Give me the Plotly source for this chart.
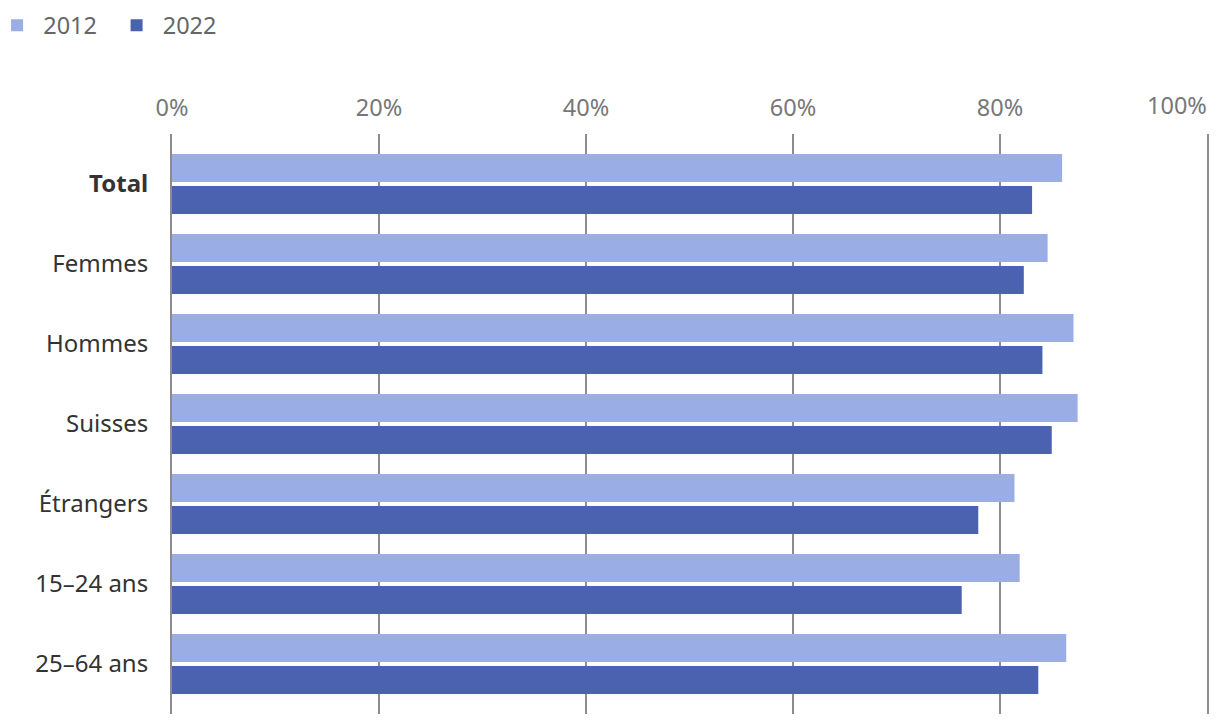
import plotly.graph_objects as go

categories = ["<b>Total</b>", "Femmes", "Hommes", "Suisses", "Étrangers", "15–24 ans", "25–64 ans"]
values_2012 = [86.0, 84.6, 87.1, 87.5, 81.4, 81.9, 86.4]
values_2022 = [83.1, 82.3, 84.1, 85.0, 77.9, 76.3, 83.7]
series_names = ["2012", "2022"]
tick_vals = [0, 20, 40, 60, 80, 100]
tick_text = ["0%", "20%", "40%", "60%", "80%", "100%"]

FONT = "Noto Sans"
GRID = "#8c8c8c"
fig = go.Figure()
fig.add_trace(go.Bar(y=categories, x=values_2012, name=" " + series_names[0], orientation="h",
                     marker=dict(color="#9BADE5", line=dict(width=0))))
fig.add_trace(go.Bar(y=categories, x=values_2022, name=" " + series_names[1], orientation="h",
                     marker=dict(color="#4A62B0", line=dict(width=0))))

fig.update_layout(
    width=1220, height=726,
    margin=dict(l=164, r=21, t=126, b=20, autoexpand=False),
    paper_bgcolor="white", plot_bgcolor="white",
    barmode="group", bargap=0.2, bargroupgap=0.125,
    font=dict(family=FONT, size=24, color="#333333"),
    showlegend=True,
    legend=dict(orientation="h", x=-0.169, y=1.225, xref="paper", yref="paper",
                xanchor="left", yanchor="top",
                font=dict(family=FONT, size=23.5, color="#666666"),
                entrywidth=74.5, entrywidthmode="pixels"),
    hovermode=False,
)
fig.update_xaxes(
    side="top", range=[0, 100], tickvals=tick_vals,
    ticktext=tick_text[:-1] + [""],
    showgrid=True, gridcolor=GRID, gridwidth=2,
    zeroline=False, showline=False, ticks="",
    tickfont=dict(family=FONT, size=23.5, color="#777777"),
    ticklabelstandoff=12, fixedrange=True, automargin=False,
)
fig.update_yaxes(
    type="category", categoryorder="array", categoryarray=categories,
    range=[6.625, -0.625], showgrid=False, zeroline=False, ticks="",
    showline=True, mirror=True, linecolor=GRID, linewidth=2,
    tickfont=dict(family=FONT, size=24, color="#333333"),
    ticklabelstandoff=17, fixedrange=True, automargin=False,
)
fig.add_annotation(x=tick_vals[-1], y=1, xref="x", yref="paper",
                   text=tick_text[-1], showarrow=False, xanchor="right",
                   yanchor="bottom", yshift=11, xshift=2,
                   font=dict(family=FONT, size=23.5, color="#777777"))
fig.write_html("out.html")
